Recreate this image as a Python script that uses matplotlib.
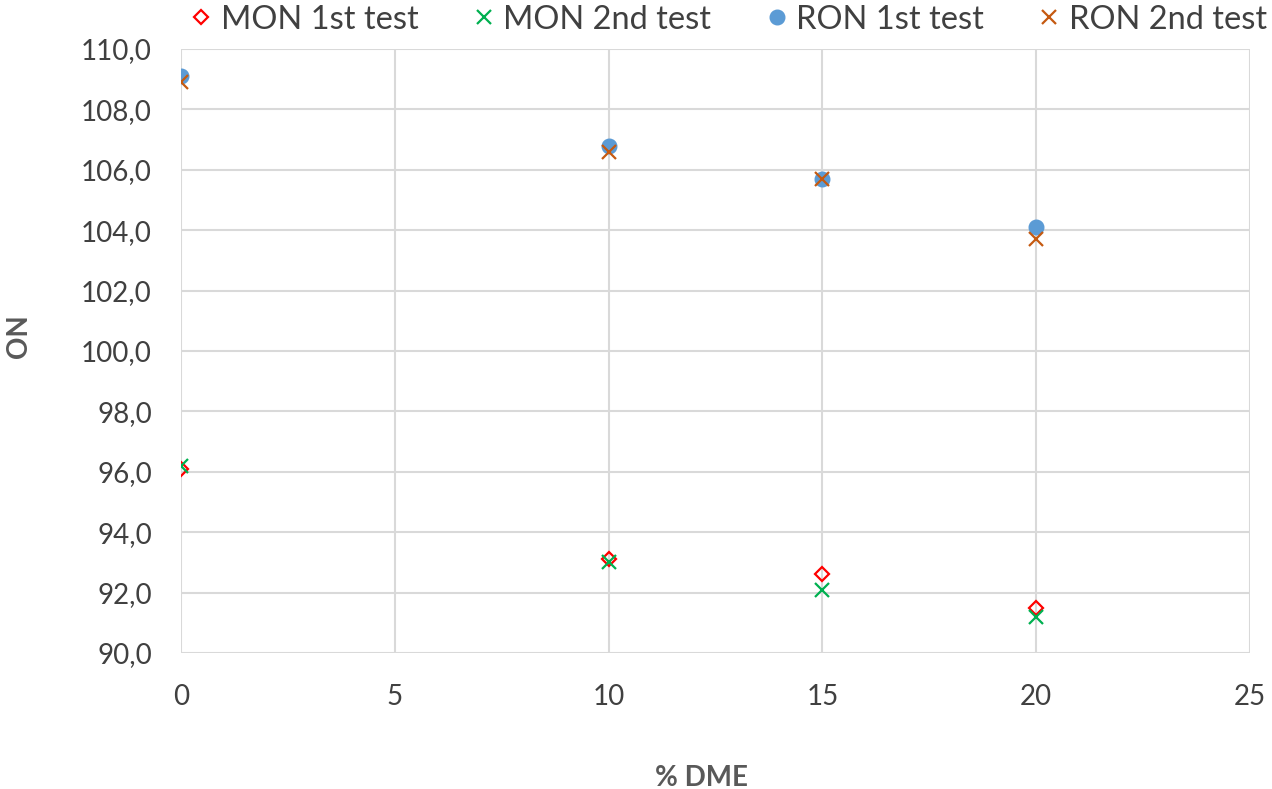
import matplotlib
matplotlib.use("Agg")
import matplotlib.pyplot as plt
from matplotlib.ticker import FuncFormatter, MultipleLocator

plt.rcParams['font.family'] = ['Lato', 'DejaVu Sans']

dme = [0, 10, 15, 20]
mon_1st = [96.1, 93.1, 92.6, 91.5]
mon_2nd = [96.2, 93.0, 92.1, 91.2]
ron_1st = [109.1, 106.8, 105.7, 104.1]
ron_2nd = [108.9, 106.6, 105.7, 103.7]

fig = plt.figure(figsize=(12.72, 7.89), dpi=100)
ax = fig.add_axes([0.1423, 0.1724, 0.8404, 0.7655])

grey = '#595959'
ax.plot(dme, mon_1st, linestyle='none', marker='D', markersize=7, markerfacecolor='none',
        markeredgecolor='#FF0000', markeredgewidth=1.6, label='MON 1st test', zorder=3)
ax.plot(dme, mon_2nd, linestyle='none', marker='x', markersize=10, color='#00B050',
        markeredgewidth=1.6, label='MON 2nd test', zorder=4)
ax.plot(dme, ron_1st, linestyle='none', marker='o', markersize=10.5, color='#5B9BD5',
        label='RON 1st test', zorder=3)
ax.plot(dme, ron_2nd, linestyle='none', marker='x', markersize=10, color='#C55A11',
        markeredgewidth=1.6, label='RON 2nd test', zorder=4)

ax.set_xlim(0, 25)
ax.set_ylim(90, 110)
ax.xaxis.set_major_locator(MultipleLocator(5))
ax.yaxis.set_major_locator(MultipleLocator(2))
ax.yaxis.set_major_formatter(FuncFormatter(lambda v, p: f"{v:.1f}".replace('.', ',')))

for s in ax.spines.values():
    s.set_visible(False)
ax.grid(True, color='#D9D9D9', linewidth=1.5)
ax.set_axisbelow(True)
ax.tick_params(axis='both', length=0, labelsize=20, labelcolor='#404040')
ax.tick_params(axis='y', pad=21)
ax.tick_params(axis='x', pad=22)

ax.set_xlabel('% DME', fontsize=20, fontweight='bold', color=grey)
ax.set_ylabel('ON', fontsize=20, fontweight='bold', color=grey)
ax.xaxis.set_label_coords(0.487, -0.185)
ax.yaxis.set_label_coords(-0.139, 0.525)

leg = fig.legend(loc='center', bbox_to_anchor=(0.574, 0.975), ncol=4, frameon=False,
                 fontsize=23.5, handlelength=0.5, handletextpad=0.35, columnspacing=1.75,
                 labelcolor='#404040', borderpad=0.1)

fig.savefig('out.png', dpi=100, facecolor='white')
